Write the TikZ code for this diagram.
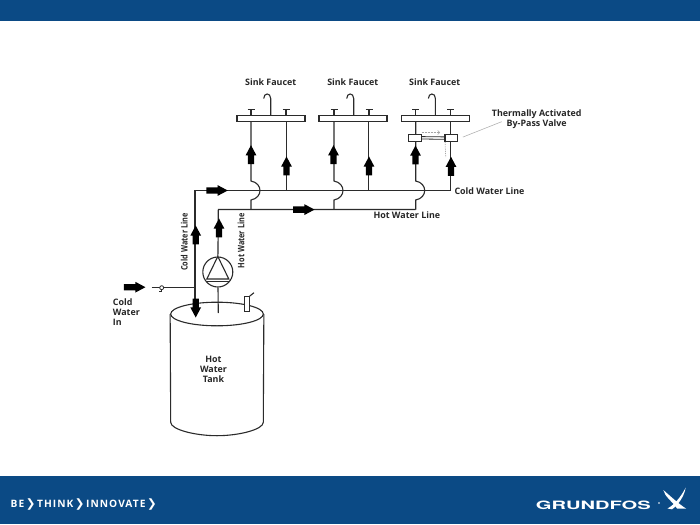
\documentclass[tikz,border=0pt]{standalone}
\usepackage{fontspec}
\setmainfont{Open Sans}
\newfontfamily\footfont[LetterSpace=10]{Open Sans}
\newfontfamily\chevfont{DejaVu Sans}
\newfontfamily\logofont{TeX Gyre Heros}
\usepackage{xcolor}
\definecolor{bannerblue}{HTML}{0B4A85}
\definecolor{pipegray}{HTML}{2B2B2B}
\usetikzlibrary{arrows.meta,positioning,shapes.arrows,shapes.geometric}
\tikzset{
  pipeline/.style={draw=pipegray,line width=1.1pt},
  flowarrow/.style={single arrow,fill=black,inner xsep=0pt,inner ysep=3pt,minimum height=19pt,single arrow head extend=2.2pt,single arrow tip angle=56,single arrow head indent=0pt},
  flowlong/.style={flowarrow,minimum height=21.5pt},
  sinkbar/.style={draw=pipegray,fill=white,line width=1.1pt,minimum width=68pt,minimum height=5.5pt,inner sep=0pt},
  valvebox/.style={draw=pipegray,fill=white,line width=1.1pt,minimum width=12.3pt,minimum height=7.2pt,inner sep=0pt},
  pumpnode/.style={draw=pipegray,fill=white,line width=1.1pt,circle,minimum size=30pt,inner sep=0pt},
  plabel/.style={font=\bfseries\fontsize{8.9}{10}\selectfont,text=black!85,align=center,inner sep=0pt},
  faucet/.pic={
    \draw[pipeline] (-19.7,-3) -- (-19.7,-9) (-23.2,-9) -- (-16.2,-9);
    \draw[pipeline] (15.3,-3) -- (15.3,-9) (11.8,-9) -- (18.8,-9);
    \draw[pipeline] (0,-3) -- (0,-20) .. controls (0,-26) and (-7,-26) .. (-7,-20);
  },
  hoparc/.style={insert path={-- ++(0,-9.5) .. controls +(6,-1) and +(0,4) .. ++(9,-9.5) .. controls +(0,-4) and +(6,1) .. ++(-9,-9.5)}}
}
\newcommand{\chev}{\hspace{1.6pt}{\chevfont\fontsize{11.5}{12}\selectfont\symbol{"276F}}\hspace{1.6pt}}

\begin{document}
\begin{tikzpicture}[x=1pt,y=-1pt]
\useasboundingbox (0,0) rectangle (700,524);
\fill[bannerblue] (0,0) rectangle (700,21.5);
\fill[bannerblue] (0,476) rectangle (700,524);
% pipe junctions
\coordinate (coldtee) at (195,190.5);
\coordinate (coldend) at (450.3,190.5);
\coordinate (hottee) at (218.3,209.5);
\coordinate (hotA) at (251,209.5);
\coordinate (hotB) at (334,209.5);
\coordinate (hotC) at (415.7,209.5);
\coordinate (coldA) at (286.4,190.5);
\coordinate (coldB) at (368.3,190.5);
\coordinate (coldin) at (151.7,287.7);
\coordinate (coldjoin) at (195,287.7);
% tank
\node[draw=pipegray,fill=white,line width=1.1pt,ellipse,minimum width=92.6pt,minimum height=23.6pt,inner sep=0pt] (tanktop) at (217,314) {};
\draw[pipeline] (tanktop.west) -- (170.7,422.3) .. controls (170.7,429.5) and (195,435.7) .. (217,435.7) .. controls (239,435.7) and (263.3,429.5) .. (263.3,422.3) -- (tanktop.east);
\node[draw=pipegray,fill=white,line width=1.1pt,minimum width=4.7pt,minimum height=15pt,inner sep=0pt] (gauge) at (246.7,304.2) {};
\coordinate (gaugeend) at (254,292.7);
\draw[pipeline] (gauge.north east) -- (gaugeend);
\node[plabel] (tanklabel) at (213.5,369.3) {Hot\\[-0.2pt]Water\\[-0.2pt]Tank};
% pump and main lines
\node[pumpnode] (pump) at (217.8,272) {};
\coordinate (tankhot) at (218.3,313);
\draw[pipeline] (tankhot) -- (pump);
\draw[pipeline] (pump) -- (hottee) -- (hotC);
\draw[pipeline,fill=white] (pump.north) -- (pump.south west |- 0,279) -- (pump.south east |- 0,279) -- cycle;
\draw[pipeline] (pump.south west |- 0,281.5) -- (pump.south east |- 0,281.5);
\coordinate (tankcold) at (195,312);
\draw[pipeline] (tankcold) -- (coldtee) -- (coldend) -- (450.3,141);
\draw[pipeline] (coldin) -- (coldjoin);
\node[draw=pipegray,fill=white,line width=0.8pt,circle,minimum size=4pt,inner sep=0pt] (checkvalve) at (161.7,287.7) {};
\coordinate (checkend) at (158.5,291.7);
\draw[pipeline,line width=0.8pt] (checkvalve) -- (161.7,291.7) -- (checkend);
% sinks
\node[sinkbar] (sinkA) at (271,118.5) {};
\node[sinkbar] (sinkB) at (353,118.5) {};
\node[sinkbar] (sinkC) at (435.2,118.5) {};
\pic at (270.7,118.5) {faucet};
\pic at (353.7,118.5) {faucet};
\pic at (435.4,118.5) {faucet};
\draw[pipeline] (hotA) [hoparc] -- (hotA |- sinkA.south);
\draw[pipeline] (hotB) [hoparc] -- (hotB |- sinkB.south);
\draw[pipeline] (hotC) [hoparc] -- (hotC |- sinkC.south);
\draw[pipeline] (coldA) -- (coldA |- sinkA.south);
\draw[pipeline] (coldB) -- (coldB |- sinkB.south);
% by-pass valve
\node[valvebox] (valveL) at (415,137.8) {};
\node[valvebox] (valveR) at (451.1,138.1) {};
\draw[pipeline] (valveR.north -| coldend) -- (coldend |- sinkC.south);
\draw[pipeline,line width=0.8pt] ([yshift=-1.2pt]valveL.east) -- ([yshift=-1.2pt]valveR.west);
\draw[pipeline,line width=0.8pt] ([yshift=1.2pt]valveL.east) -- ([yshift=1.2pt]valveR.west);
\coordinate (bypassA) at (421.7,132.5);
\coordinate (bypassB) at (440,132.5);
\draw[black!35,densely dotted,-{Straight Barb[length=2pt]},line width=0.5pt] (bypassA) -- (bypassB);
\coordinate (bypassC) at (445.7,157);
\draw[black!35,densely dotted,line width=0.8pt] (valveR.south west) ++(0.7,0) -- (bypassC);
\coordinate (leaderend) at (501.7,121.7);
\draw[black!30,line width=0.6pt] (valveR.east) ++(5,-1) -- (leaderend);
% flow arrows
\node[flowarrow,rotate=90] (upA) at (251,157.7) {};
\node[flowarrow,rotate=90] (upB) at (286.5,169) {};
\node[flowarrow,rotate=90] (upC) at (333.5,157.7) {};
\node[flowarrow,rotate=90] (upD) at (369,169) {};
\node[flowarrow,rotate=90] (upE) at (415.5,158) {};
\node[flowarrow,rotate=90] (upF) at (451,169.3) {};
\node[flowarrow,rotate=90] (upcold) at (195.7,238) {};
\node[flowarrow,rotate=90] (uphot) at (219,231) {};
\node[flowarrow,rotate=-90] (downcold) at (195.7,305) {};
\node[flowlong] (rightcold) at (214,190.5) {};
\node[flowlong] (righthot) at (300.8,209.6) {};
\node[flowlong] (rightin) at (131.7,287.2) {};
% labels
\node[plabel] (sinklabelA) at (270.7,82) {Sink Faucet};
\node[plabel] (sinklabelB) at (352.8,82) {Sink Faucet};
\node[plabel] (sinklabelC) at (434.7,82.5) {Sink Faucet};
\node[plabel] (bypasslabel) at (536.7,118.8) {Thermally Activated\\By-Pass Valve};
\node[plabel,anchor=west] (coldlabel) at (454.3,191) {Cold Water Line};
\node[plabel,anchor=west] (hotlabel) at (373.3,215.3) {Hot Water Line};
\node[plabel,rotate=90] (coldvert) at (184.3,242) {\scalebox{.82}[1]{Cold Water Line}};
\node[plabel,rotate=90] (hotvert) at (241,240.7) {\scalebox{.82}[1]{Hot Water Line}};
\node[plabel,anchor=west,align=left] (inlabel) at (112.7,311.7) {Cold\\Water\\In};
% footer
\node[anchor=west,text=white,inner sep=0pt,font=\footfont\bfseries\fontsize{10.2}{12}\selectfont] (slogan) at (10.5,505) {BE\chev THINK\chev INNOVATE\chev};
\node[anchor=west,text=white,inner sep=0pt,font=\logofont\bfseries\fontsize{11.5}{12}\selectfont] (brand) at (535.7,505.8) {\scalebox{1.75}[1]{GRUNDFOS}};
\fill[white] (659,503) circle (0.8);
\fill[white] (663.3,490) .. controls (669,495) and (680,505) .. (686,508.5) -- (677,508.5) .. controls (672,501) and (665,497) .. (663.3,490) -- cycle;
\fill[white] (685.7,487.5) .. controls (681,497) and (674,505) .. (667.5,508.5) -- (672,509.3) .. controls (678,505) and (684,497) .. (685.7,487.5) -- cycle;
\end{tikzpicture}
\end{document}
